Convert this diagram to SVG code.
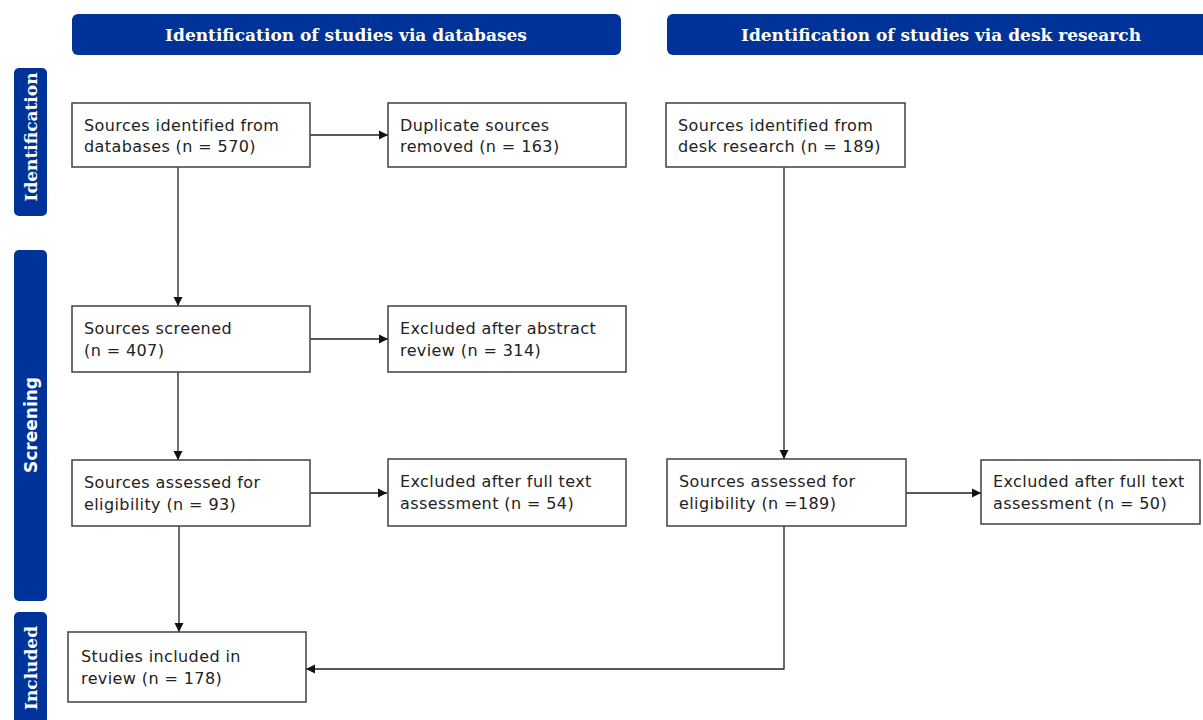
<svg xmlns="http://www.w3.org/2000/svg" width="1203" height="720" viewBox="0 0 1203 720">
<defs>
<marker id="ah" markerWidth="10" markerHeight="10" refX="9" refY="5" orient="auto" markerUnits="userSpaceOnUse">
<path d="M0,0.5 L9,5 L0,9.5 Z" fill="#111"/>
</marker>
<style>
.hdr{fill:#003399;}
.hdrt{font-family:"DejaVu Serif",serif;font-weight:bold;font-size:17px;fill:#fff;text-anchor:middle;}
.side{font-family:"DejaVu Serif",serif;font-weight:bold;font-size:17px;fill:#fff;text-anchor:middle;}
.sides{font-family:"DejaVu Sans",sans-serif;font-weight:bold;font-size:17px;fill:#fff;text-anchor:middle;}
.box{fill:#fff;stroke:#404040;stroke-width:1.5;}
.t{font-family:"DejaVu Sans",sans-serif;font-size:16px;letter-spacing:0.4px;fill:#222;}
.c{fill:none;stroke:#222;stroke-width:1.3;}
</style>
</defs>
<rect width="1203" height="720" fill="#fff"/>
<g id="header-databases"><rect class="hdr" x="72" y="14" width="549" height="41" rx="6"/><text class="hdrt" x="346" y="41">Identification of studies via databases</text></g>
<g id="header-desk"><rect class="hdr" x="667" y="14" width="545" height="41" rx="6"/><text class="hdrt" x="941" y="41">Identification of studies via desk research</text></g>
<g id="side-identification"><rect class="hdr" x="14" y="68" width="33" height="148" rx="5"/><text class="side" transform="translate(37,137) rotate(-90)">Identification</text></g>
<g id="side-screening"><rect class="hdr" x="14" y="250" width="33" height="351" rx="5"/><text class="sides" transform="translate(37,425) rotate(-90)">Screening</text></g>
<g id="side-included"><rect class="hdr" x="14" y="612" width="33" height="120" rx="5"/><text class="side" transform="translate(37,668) rotate(-90)">Included</text></g>
<g id="connectors">
<line class="c" x1="310" y1="135" x2="388" y2="135" marker-end="url(#ah)"/>
<line class="c" x1="178" y1="167" x2="178" y2="306" marker-end="url(#ah)"/>
<line class="c" x1="310" y1="339" x2="388" y2="339" marker-end="url(#ah)"/>
<line class="c" x1="178" y1="372" x2="178" y2="460" marker-end="url(#ah)"/>
<line class="c" x1="310" y1="493" x2="387" y2="493" marker-end="url(#ah)"/>
<line class="c" x1="179" y1="526" x2="179" y2="632" marker-end="url(#ah)"/>
<line class="c" x1="784" y1="167" x2="784" y2="459" marker-end="url(#ah)"/>
<line class="c" x1="906" y1="493" x2="981" y2="493" marker-end="url(#ah)"/>
<polyline class="c" points="784,526 784,669 306,669" marker-end="url(#ah)"/>
</g>
<g id="box-db-identified"><rect class="box" x="72" y="103" width="238" height="64"/><text class="t" x="84" y="131">Sources identified from</text><text class="t" x="84" y="152">databases (n = 570)</text></g>
<g id="box-duplicates"><rect class="box" x="388" y="103" width="238" height="64"/><text class="t" x="400" y="131">Duplicate sources</text><text class="t" x="400" y="152">removed (n = 163)</text></g>
<g id="box-desk-identified"><rect class="box" x="666" y="103" width="239" height="64"/><text class="t" x="678" y="131">Sources identified from</text><text class="t" x="678" y="152">desk research (n = 189)</text></g>
<g id="box-screened"><rect class="box" x="72" y="306" width="238" height="66"/><text class="t" x="84" y="334">Sources screened</text><text class="t" x="84" y="356">(n = 407)</text></g>
<g id="box-excl-abstract"><rect class="box" x="388" y="306" width="238" height="66"/><text class="t" x="400" y="334">Excluded after abstract</text><text class="t" x="400" y="356">review (n = 314)</text></g>
<g id="box-db-eligibility"><rect class="box" x="72" y="460" width="238" height="66"/><text class="t" x="84" y="488">Sources assessed for</text><text class="t" x="84" y="510">eligibility (n = 93)</text></g>
<g id="box-db-excl-full"><rect class="box" x="388" y="459" width="238" height="67"/><text class="t" x="400" y="487">Excluded after full text</text><text class="t" x="400" y="509">assessment (n = 54)</text></g>
<g id="box-desk-eligibility"><rect class="box" x="667" y="459" width="239" height="67"/><text class="t" x="679" y="487">Sources assessed for</text><text class="t" x="679" y="509">eligibility (n =189)</text></g>
<g id="box-desk-excl-full"><rect class="box" x="981" y="460" width="219" height="64"/><text class="t" x="993" y="487">Excluded after full text</text><text class="t" x="993" y="509">assessment (n = 50)</text></g>
<g id="box-included"><rect class="box" x="68" y="632" width="238" height="70"/><text class="t" x="81" y="662">Studies included in</text><text class="t" x="81" y="684">review (n = 178)</text></g>
</svg>
